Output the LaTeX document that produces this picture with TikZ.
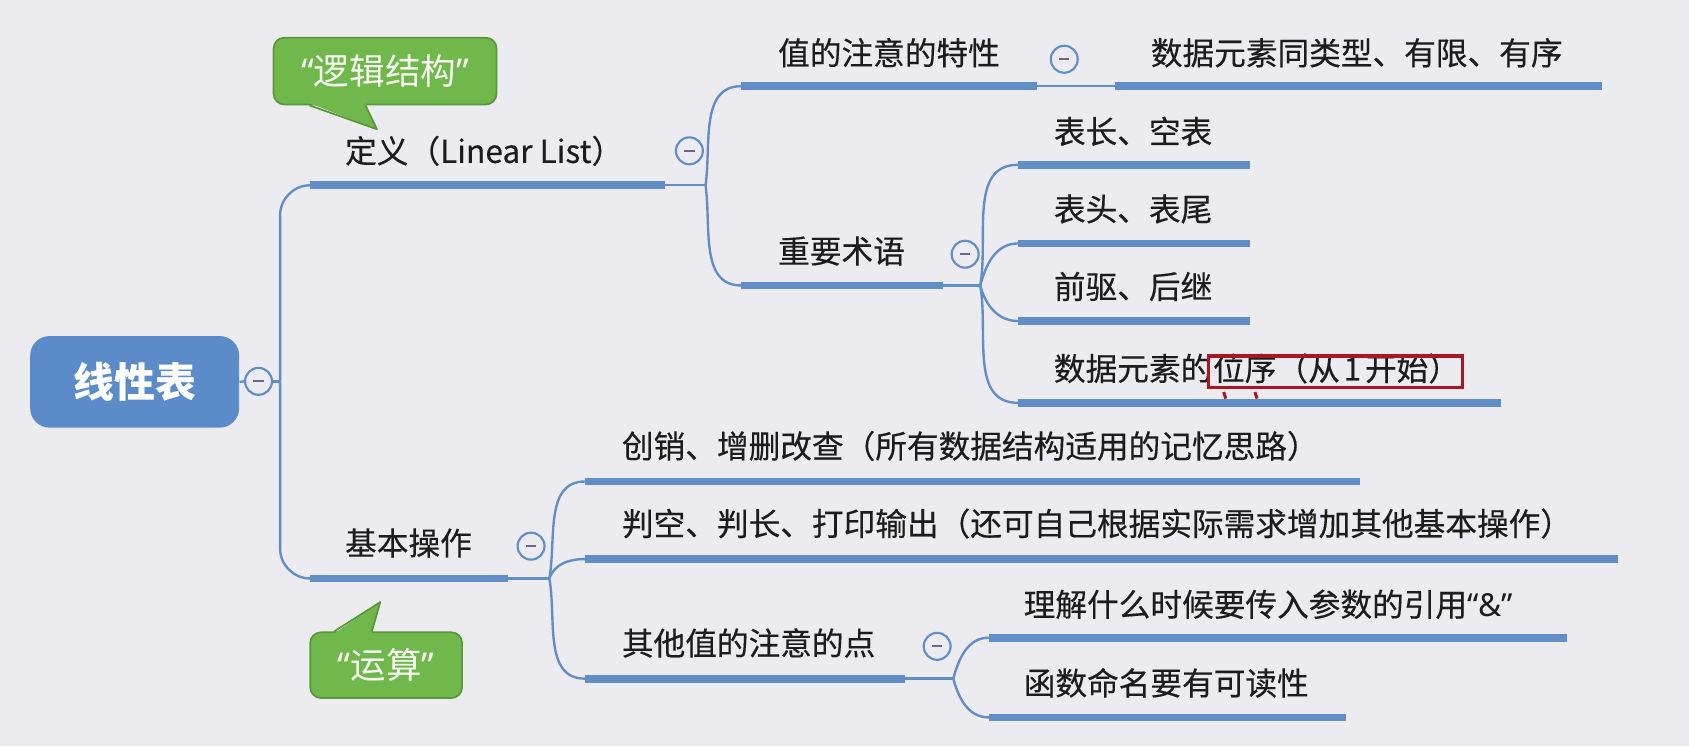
\documentclass[tikz,border=0pt]{standalone}
\usepackage{fontspec}
\setmainfont{Noto Sans CJK SC}
\newfontfamily\topicfont{Noto Sans CJK SC}[FakeBold=0.35]
\newfontfamily\quotefont{Noto Sans}
\usetikzlibrary{calc}

\definecolor{bg}{RGB}{236,236,240}
\definecolor{mapblue}{RGB}{98,142,200}
\definecolor{rootblue}{RGB}{92,139,201}
\definecolor{ink}{RGB}{28,28,28}
\definecolor{minusc}{RGB}{112,98,140}
\definecolor{callfill}{RGB}{112,183,76}
\definecolor{callline}{RGB}{88,152,58}
\definecolor{calltext}{RGB}{246,250,242}
\definecolor{markred}{RGB}{172,22,34}

\tikzset{
  topic/.style={anchor=west, inner sep=0pt, text height=0.82em, text depth=0.1em,
    text=ink, font=\topicfont\fontsize{14.7pt}{17pt}\selectfont},
  uline/.style={draw=mapblue, line width=3.6pt},
  link/.style={draw=mapblue, line width=1.1pt},
  branch/.style={out=#1, in=180},
  fold/.style={circle, draw=mapblue, line width=1pt, fill=bg, minimum size=12.5pt,
    inner sep=0pt,
    path picture={\draw[minusc, line width=1pt]
      ([xshift=-2.4pt]path picture bounding box.center) --
      ([xshift=2.4pt]path picture bounding box.center);}},
  rootbox/.style={fill=rootblue, rounded corners=9pt, minimum width=97pt,
    minimum height=42.5pt, text=white, inner sep=0pt,
    font=\fontsize{19pt}{22pt}\selectfont\bfseries},
  callbox/.style={fill=callfill, draw=callline, line width=0.8pt, rounded corners=5pt,
    text=calltext, inner sep=0pt, font=\fontsize{16.5pt}{19pt}\selectfont},
  callside/.style={draw=callline, line width=0.8pt, line join=round},
  redbox/.style={draw=markred, line width=1.5pt},
}

\begin{document}
\begin{tikzpicture}[x=0.5pt, y=-0.5pt]
  \useasboundingbox (0,0) rectangle (1568,693);
  \fill[bg] (0,0) rectangle (1568,693);

  % underline end points and branch points
  \coordinate (trunk) at (260,354);
  \coordinate (defL) at (288,172);  \coordinate (defR) at (617,172);  \coordinate (defB) at (655,172);
  \coordinate (vaL) at (688,80);    \coordinate (vaR) at (963,80);
  \coordinate (vbL) at (1035,80);   \coordinate (vbR) at (1487,80);
  \coordinate (zyL) at (688,265);   \coordinate (zyR) at (875,265);   \coordinate (zyB) at (910,265);
  \coordinate (t1L) at (945,153);   \coordinate (t1R) at (1160,153);
  \coordinate (t2L) at (945,226);   \coordinate (t2R) at (1160,226);
  \coordinate (t3L) at (945,298);   \coordinate (t3R) at (1160,298);
  \coordinate (t4L) at (945,374);   \coordinate (t4R) at (1393,374);
  \coordinate (opL) at (288,537);   \coordinate (opR) at (472,537);   \coordinate (opB) at (510,537);
  \coordinate (o1L) at (543,447);   \coordinate (o1R) at (1263,447);
  \coordinate (o2L) at (543,519);   \coordinate (o2R) at (1502,519);
  \coordinate (o3L) at (543,630);   \coordinate (o3R) at (840,630);   \coordinate (o3B) at (885,630);
  \coordinate (p1L) at (918,592);   \coordinate (p1R) at (1455,592);
  \coordinate (p2L) at (918,666);   \coordinate (p2R) at (1250,666);

  % root topic
  \node[rootbox] (root) at (125,354.5) {线性表};
  \node[fold] (rf) at (240,354) {};
  \draw[link] (root.east) -- (rf.west);
  \draw[link] (rf.east) -- (trunk);
  \draw[link, rounded corners=14pt] (trunk) |- (defL);
  \draw[link, rounded corners=14pt] (trunk) |- (opL);

  % definition branch
  \draw[uline] (defL) -- (defR);
  \node[topic] (tdef) at (320,144) {定义（Linear List）};
  \node[fold] (fdef) at (640,140) {};
  \draw[link] (defR) -- (defB);
  \draw[link] (defB) to[branch=82] (vaL);
  \draw[link] (defB) to[branch=-82] (zyL);

  \draw[uline] (vaL) -- (vaR);
  \node[topic] (tva) at (722,53) {值的注意的特性};
  \node[fold] (fva) at (988,55) {};
  \draw[link] (vaR) -- (vbL);
  \draw[uline] (vbL) -- (vbR);
  \node[topic] (tvb) at (1068,53) {数据元素同类型、有限、有序};

  \draw[uline] (zyL) -- (zyR);
  \node[topic] (tzy) at (722,237) {重要术语};
  \node[fold] (fzy) at (896,236) {};
  \draw[link] (zyR) -- (zyB);
  \draw[link] (zyB) to[branch=80] (t1L);
  \draw[link] (zyB) to[branch=75] (t2L);
  \draw[link] (zyB) to[branch=-75] (t3L);
  \draw[link] (zyB) to[branch=-80] (t4L);

  \draw[uline] (t1L) -- (t1R);
  \node[topic] (tt1) at (978,126) {表长、空表};
  \draw[uline] (t2L) -- (t2R);
  \node[topic] (tt2) at (978,198) {表头、表尾};
  \draw[uline] (t3L) -- (t3R);
  \node[topic] (tt3) at (978,270) {前驱、后继};
  \draw[uline] (t4L) -- (t4R);
  \node[topic] (tt4) at (978,346) {数据元素的};
  \node[topic] (tt4r) at (tt4.east) {位序（从\hspace{0.12em}1\hspace{0.12em}开始）};
  \draw[redbox] ($(tt4r.north west)+(-4,-6)$) rectangle ($(tt4r.south east)+(2,4)$);
  \draw[markred, line width=1.4pt] (1136,364) -- (1138,370);
  \draw[markred, line width=1.4pt] (1165,364) -- (1167,370);

  % basic operations branch
  \draw[uline] (opL) -- (opR);
  \node[topic] (top) at (320,508) {基本操作};
  \node[fold] (fop) at (493,507) {};
  \draw[link] (opR) -- (opB);
  \draw[link] (opB) to[branch=80] (o1L);
  \draw[link] (opB) to[branch=70] (o2L);
  \draw[link] (opB) to[branch=-80] (o3L);

  \draw[uline] (o1L) -- (o1R);
  \node[topic] (to1) at (577,418) {创销、增删改查（所有数据结构适用的记忆思路）};
  \draw[uline] (o2L) -- (o2R);
  \node[topic] (to2) at (577,490) {判空、判长、打印输出（还可自己根据实际需求增加其他基本操作）};
  \draw[uline] (o3L) -- (o3R);
  \node[topic] (to3) at (577,601) {其他值的注意的点};
  \node[fold] (fo3) at (870,600) {};
  \draw[link] (o3R) -- (o3B);
  \draw[link] (o3B) to[branch=75] (p1L);
  \draw[link] (o3B) to[branch=-75] (p2L);

  \draw[uline] (p1L) -- (p1R);
  \node[topic] (tp1) at (950,565) {理解什么时候要传入参数的引用{\quotefont“\&”}};
  \draw[uline] (p2L) -- (p2R);
  \node[topic] (tp2) at (950,638) {函数命名要有可读性};

  % callouts
  \node[callbox, minimum width=103.5pt, minimum height=31pt] (cl1) at (357.5,66)
    {{\quotefont“}逻辑结构{\quotefont”}};
  \coordinate (cl1tip) at (350,120);
  \fill[callfill] ($(cl1.south west)+(34,-2)$) -- ($(cl1.south west)+(86,-2)$) -- (cl1tip) -- cycle;
  \draw[callside] ($(cl1.south west)+(34,0)$) -- (cl1tip) -- ($(cl1.south west)+(86,0)$);

  \node[callbox, minimum width=70.5pt, minimum height=30.5pt] (cl2) at (358.5,617.5)
    {{\quotefont“}运算{\quotefont”}};
  \coordinate (cl2tip) at (353,559);
  \fill[callfill] ($(cl2.north west)+(23,2)$) -- ($(cl2.north west)+(58,2)$) -- (cl2tip) -- cycle;
  \draw[callside] ($(cl2.north west)+(23,0)$) -- (cl2tip) -- ($(cl2.north west)+(58,0)$);
\end{tikzpicture}
\end{document}
